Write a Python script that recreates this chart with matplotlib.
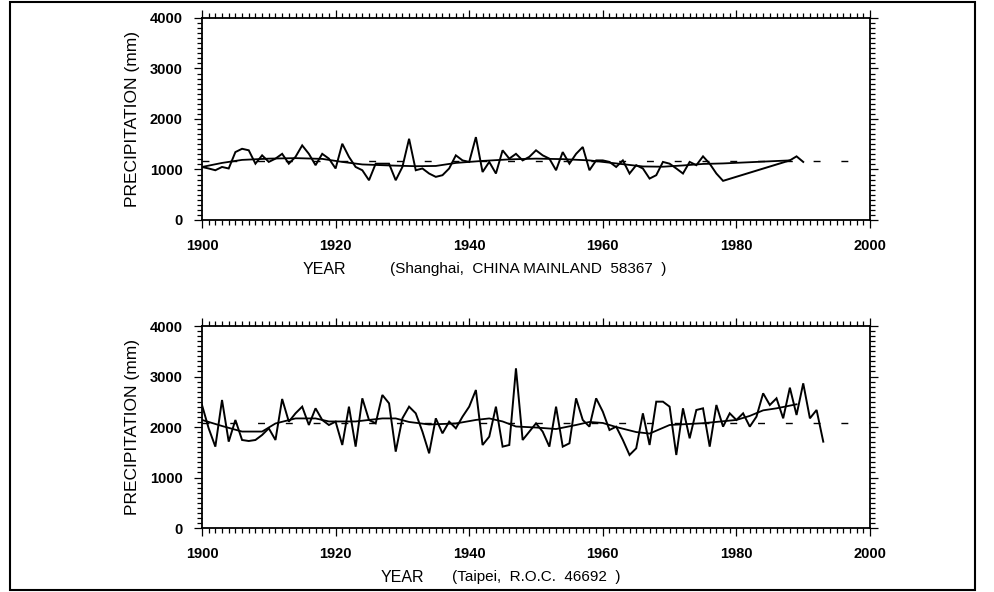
import matplotlib
matplotlib.use("Agg")
import matplotlib.pyplot as plt
import numpy as np
from matplotlib.ticker import MultipleLocator
from matplotlib.patches import Rectangle

plt.rcParams['font.family'] = ['Liberation Sans', 'DejaVu Sans']

# Shanghai, annual precipitation (mm); 1979-1987 missing (drawn straight)
sh_years = list(range(1900, 1979)) + [1988, 1989, 1990]
sh_precip = [1050, 1020, 985, 1050, 1020, 1345, 1410, 1380, 1115, 1280,
             1150, 1215, 1310, 1115, 1250, 1477, 1310, 1085, 1310, 1215,
             1020, 1510, 1250, 1050, 985, 787, 1115, 1115, 1115, 787,
             1050, 1608, 985, 1020, 920, 854, 887, 1020, 1280, 1180,
             1150, 1641, 950, 1150, 920, 1380, 1215, 1310, 1180, 1250,
             1380, 1280, 1215, 985, 1345, 1115, 1310, 1445, 985, 1180,
             1180, 1150, 1050, 1180, 920, 1085, 1020, 820, 887, 1150,
             1115, 1020, 920, 1150, 1085, 1260, 1115, 920, 775,
             1180, 1260, 1150]
sh_smooth_years = [1900, 1903, 1906, 1910, 1914, 1918, 1921, 1924, 1928,
                   1932, 1935, 1938, 1942, 1946, 1950, 1954, 1958, 1962,
                   1966, 1969, 1972, 1975, 1978, 1988]
sh_smooth = [1050, 1130, 1190, 1215, 1225, 1210, 1150, 1100, 1080,
             1065, 1070, 1130, 1170, 1200, 1215, 1205, 1180, 1120,
             1060, 1055, 1080, 1110, 1120, 1180]
sh_mean = 1160

# Taipei, annual precipitation (mm), 1900-1993
tp_years = list(range(1900, 1994))
tp_precip = [2436, 1974, 1611, 2535, 1710, 2139, 1743, 1723, 1743, 1842,
             1974, 1743, 2555, 2106, 2271, 2403, 2040, 2370, 2139, 2040,
             2106, 1644, 2403, 1611, 2568, 2139, 2073, 2634, 2469, 1512,
             2172, 2403, 2271, 1908, 1479, 2172, 1875, 2106, 1974, 2205,
             2403, 2733, 1644, 1809, 2403, 1611, 1644, 3162, 1743, 1908,
             2073, 1908, 1611, 2403, 1611, 1677, 2568, 2139, 2007, 2568,
             2304, 1941, 2007, 1743, 1446, 1578, 2271, 1644, 2502, 2502,
             2403, 1446, 2370, 1776, 2337, 2370, 1611, 2436, 2007, 2271,
             2139, 2271, 2007, 2205, 2667, 2436, 2568, 2172, 2779, 2238,
             2865, 2172, 2337, 1710]
tp_smooth_years = [1900, 1903, 1906, 1909, 1911, 1914, 1917, 1919, 1923,
                   1927, 1929, 1931, 1934, 1938, 1941, 1943, 1945, 1947,
                   1950, 1953, 1956, 1958, 1960, 1962, 1965, 1967, 1970,
                   1975, 1980, 1982, 1984, 1986, 1989]
tp_smooth = [2140, 2020, 1910, 1910, 2070, 2170, 2170, 2110, 2110,
             2170, 2170, 2100, 2050, 2070, 2140, 2170, 2110, 2010,
             1990, 1960, 2040, 2100, 2080, 2000, 1900, 1870, 2040,
             2075, 2140, 2220, 2330, 2370, 2450]
tp_mean = 2080

station_labels = ["(Shanghai,  CHINA MAINLAND  58367  )",
                  "(Taipei,  R.O.C.  46692  )"]


def styleAxis(axis):
    axis.set_xlim(1900, 2000)
    axis.set_ylim(0, 4000)
    axis.xaxis.set_major_locator(MultipleLocator(20))
    axis.xaxis.set_minor_locator(MultipleLocator(1))
    axis.yaxis.set_major_locator(MultipleLocator(1000))
    axis.yaxis.set_minor_locator(MultipleLocator(100))
    axis.tick_params(which="both", direction="out", top=True, right=True,
                     width=0.9, color="black")
    axis.tick_params(which="major", length=6, labelsize=10.5)
    axis.tick_params(which="minor", length=3.5)
    axis.tick_params(axis="x", which="major", pad=8)
    axis.tick_params(axis="y", which="major", pad=8)
    for lab in axis.get_xticklabels() + axis.get_yticklabels():
        lab.set_fontweight("bold")
    for s in axis.spines.values():
        s.set_linewidth(1.3)
    axis.set_ylabel("PRECIPITATION (mm)", fontsize=12.5, labelpad=7)


fig = plt.figure(figsize=(9.95, 5.92), dpi=100)
axTop = fig.add_axes([0.2030, 0.6284, 0.6714, 0.3412])
axBot = fig.add_axes([0.2030, 0.1081, 0.6714, 0.3412])

for axis, yrs, vals, syrs, svals, m in [
        (axTop, sh_years, sh_precip, sh_smooth_years, sh_smooth, sh_mean),
        (axBot, tp_years, tp_precip, tp_smooth_years, tp_smooth, tp_mean)]:
    axis.plot(yrs, vals, color="black", lw=1.4, solid_joinstyle="miter")
    axis.plot(syrs, svals, color="black", lw=1.3)
    axis.axhline(m, color="black", lw=1.0, dashes=(5, 15))
    styleAxis(axis)

fig.text(303 / 995, 1 - 269 / 592, "YEAR", fontsize=11.5, va="center")
fig.text(390 / 995, 1 - 269 / 592, station_labels[0], fontsize=11, va="center")
fig.text(381 / 995, 1 - 577 / 592, "YEAR", fontsize=11.5, va="center")
fig.text(452 / 995, 1 - 577 / 592, station_labels[1], fontsize=11, va="center")

fig.patches.append(Rectangle((10 / 995, 2 / 592), 965 / 995, 588 / 592,
                             transform=fig.transFigure, fill=False,
                             edgecolor="black", lw=1.5))

fig.savefig("out.png", dpi=100)
